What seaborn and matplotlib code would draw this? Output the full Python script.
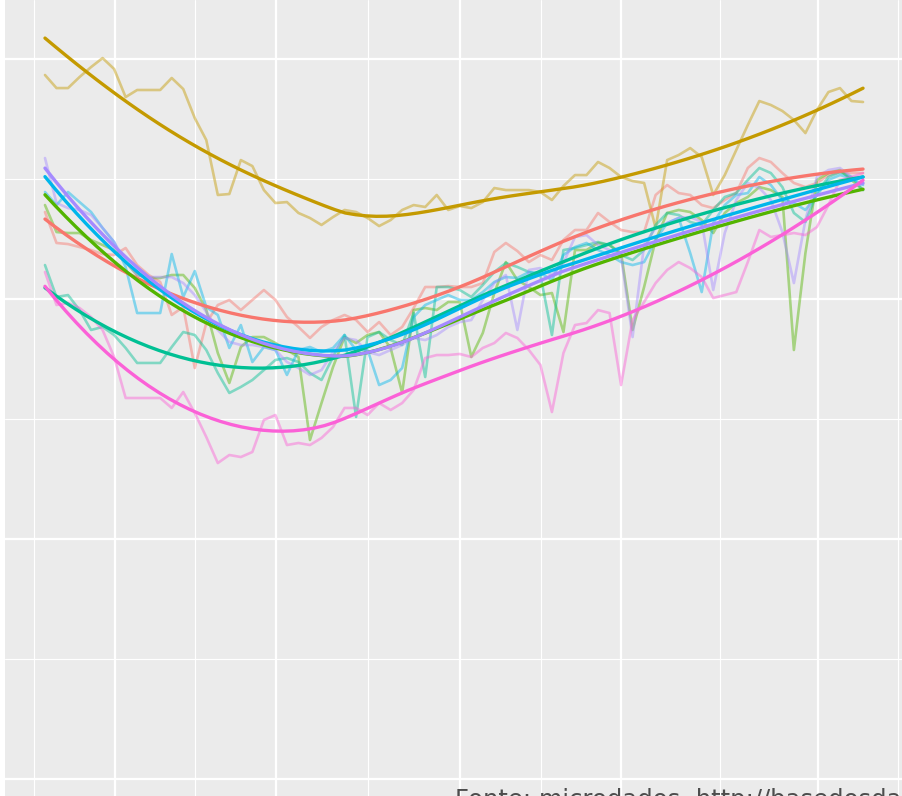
import numpy as np
import pandas as pd
import matplotlib
matplotlib.use("Agg")
import matplotlib.pyplot as plt
import seaborn as sns

# --- dati ---
grupos = ["Grupo 1", "Grupo 2", "Grupo 3", "Grupo 4", "Grupo 5", "Grupo 6", "Grupo 7"]
cores = ["#F8766D", "#C49A00", "#53B400", "#00C094", "#00B6EB", "#A58AFF", "#FB61D7"]
periodo = list(range(72))

g1 = [47.25, 44.67, 44.58, 44.33, 44.08, 43.75, 43.67, 44.25, 42.83, 42.0, 41.42, 38.67,
      39.33, 34.25, 38.0, 39.5, 39.92, 39.08, 39.92, 40.75, 39.92, 38.5, 37.67, 36.75,
      37.67, 38.25, 38.67, 38.25, 37.25, 38.08, 37.0, 37.67, 39.25, 41.0, 41.0, 41.08,
      41.0, 41.0, 41.33, 43.92, 44.67, 44.0, 43.08, 43.67, 43.25, 44.92, 45.75, 45.75,
      47.17, 46.42, 45.75, 45.58, 45.58, 48.67, 49.5, 48.83, 48.67, 47.83, 47.58, 48.25,
      48.83, 50.92, 51.75, 51.42, 50.5, 49.67, 49.33, 49.67, 50.33, 50.58, 50.5, 50.5]
g2 = [58.67, 57.58, 57.58, 58.5, 59.33, 60.08, 59.17, 56.83, 57.42, 57.42, 57.42, 58.42,
      57.5, 55.08, 53.25, 48.67, 48.75, 51.58, 51.08, 49.08, 48.0, 48.08, 47.17, 46.75,
      46.17, 46.83, 47.42, 47.25, 46.75, 46.08, 46.58, 47.42, 47.83, 47.67, 48.67, 47.42,
      47.75, 47.58, 48.08, 49.25, 49.08, 49.08, 49.08, 48.92, 48.25, 49.42, 50.33, 50.33,
      51.42, 50.92, 50.17, 49.83, 49.67, 45.92, 51.58, 52.0, 52.58, 51.83, 48.67, 50.33,
      52.42, 54.5, 56.5, 56.17, 55.67, 54.92, 53.83, 55.75, 57.25, 57.58, 56.5, 56.42]
g3 = [47.83, 45.58, 45.5, 45.5, 44.92, 44.5, 44.08, 43.08, 42.0, 41.75, 41.75, 42.0,
      42.0, 40.92, 39.08, 35.5, 33.0, 36.0, 36.83, 36.83, 36.33, 35.75, 35.17, 28.25,
      31.33, 34.33, 36.83, 36.33, 37.0, 37.25, 35.92, 32.17, 39.08, 39.25, 39.08, 39.75,
      39.75, 35.17, 37.17, 40.5, 43.08, 41.58, 41.0, 40.33, 40.5, 37.25, 44.08, 44.08,
      44.67, 44.5, 43.83, 37.42, 41.0, 44.92, 47.17, 47.42, 47.25, 46.58, 45.5, 47.17,
      48.0, 48.5, 49.33, 49.08, 48.5, 35.75, 43.83, 49.92, 50.5, 50.75, 49.92, 49.08]
g4 = [42.83, 40.17, 40.33, 39.08, 37.42, 37.67, 37.0, 35.92, 34.67, 34.67, 34.67, 36.0,
      37.25, 37.0, 35.75, 33.83, 32.17, 32.67, 33.25, 34.08, 34.92, 35.08, 34.75, 33.83,
      33.25, 35.17, 37.0, 30.17, 36.83, 37.25, 36.58, 36.17, 38.83, 33.5, 41.0, 41.0,
      40.75, 40.17, 41.17, 42.25, 43.0, 42.67, 42.25, 42.0, 37.0, 44.08, 44.25, 44.5,
      44.75, 44.5, 43.67, 43.25, 44.08, 46.17, 47.17, 47.0, 46.42, 46.17, 47.42, 48.5,
      48.83, 49.92, 50.92, 50.5, 49.33, 47.17, 46.42, 48.83, 50.17, 50.58, 50.17, 49.08]
g5 = [48.92, 47.83, 48.92, 48.08, 47.25, 45.92, 44.75, 42.67, 38.83, 38.83, 38.83, 43.75,
      40.17, 42.33, 39.33, 38.67, 35.92, 37.83, 34.75, 36.0, 35.75, 33.67, 35.75, 36.0,
      35.58, 35.92, 37.0, 35.75, 35.75, 32.83, 33.25, 34.25, 38.5, 39.5, 39.92, 40.33,
      39.92, 39.92, 40.58, 41.42, 41.83, 41.75, 42.25, 42.17, 41.58, 43.67, 44.33, 44.67,
      44.08, 43.67, 43.08, 42.83, 43.08, 44.92, 46.33, 46.75, 43.83, 40.58, 46.33, 47.83,
      48.67, 48.83, 50.17, 49.5, 48.25, 48.0, 47.42, 48.67, 49.92, 50.33, 50.08, 49.5]
g6 = [51.75, 48.0, 47.58, 47.42, 47.0, 45.92, 44.75, 43.08, 42.0, 41.83, 41.83, 41.83,
      41.33, 40.33, 38.92, 37.42, 36.42, 36.17, 36.17, 36.0, 35.75, 34.75, 34.25, 33.67,
      34.08, 35.58, 36.75, 36.58, 35.58, 35.33, 35.75, 36.17, 36.75, 36.58, 37.0, 37.67,
      38.08, 38.25, 39.92, 41.33, 42.0, 37.42, 42.42, 42.58, 42.0, 43.0, 45.17, 45.33,
      44.5, 44.08, 43.5, 36.83, 44.5, 45.92, 46.33, 46.75, 46.83, 46.42, 40.75, 45.5,
      48.25, 49.67, 49.25, 48.25, 45.58, 41.33, 46.58, 50.17, 50.75, 50.92, 50.17, 50.17]
g7 = [42.25, 39.5, 39.67, 39.25, 38.5, 37.42, 35.17, 31.75, 31.75, 31.75, 31.75, 30.92,
      32.25, 30.5, 28.5, 26.33, 27.0, 26.83, 27.25, 29.92, 30.33, 27.83, 28.0, 27.83,
      28.42, 29.33, 30.92, 30.92, 30.33, 31.33, 30.75, 31.33, 32.42, 35.08, 35.33, 35.33,
      35.42, 35.17, 35.92, 36.33, 37.17, 36.75, 35.75, 34.5, 30.58, 35.5, 37.83, 38.0,
      39.08, 38.83, 32.83, 38.25, 39.75, 41.33, 42.42, 43.08, 42.58, 41.83, 40.08, 40.33,
      40.58, 43.08, 45.75, 45.17, 45.33, 45.5, 45.33, 46.0, 47.83, 49.92, 50.17, 50.5]

fonte = "Fonte: microdados  http://basedosdados.org"

series = [g1, g2, g3, g4, g5, g6, g7]
df = pd.concat([pd.DataFrame({"periodo": periodo, "valor": s, "grupo": g})
                for g, s in zip(grupos, series)], ignore_index=True)


# --- loess (come geom_smooth: span 0.75, grado 2) ---
def loess(x, y, span=0.75, n_out=80):
    x = np.asarray(x, float)
    y = np.asarray(y, float)
    q = int(np.floor(span * len(x)))
    xs = np.linspace(x.min(), x.max(), n_out)
    ys = []
    for x0 in xs:
        d = np.abs(x - x0)
        h = np.sort(d)[q - 1]
        w = np.clip(1 - (d / h) ** 3, 0, None) ** 3
        X = np.column_stack([np.ones_like(x), x - x0, (x - x0) ** 2])
        W = np.sqrt(w)
        beta = np.linalg.lstsq(X * W[:, None], y * W, rcond=None)[0]
        ys.append(beta[0])
    return xs, np.array(ys)


smooth = []
for g, s in zip(grupos, series):
    xs, ys = loess(periodo, s)
    smooth.append(pd.DataFrame({"periodo": xs, "valor": ys, "grupo": g}))
df_smooth = pd.concat(smooth, ignore_index=True)

# --- grafico ---
sns.set_style("darkgrid", {"axes.facecolor": "#EBEBEB", "grid.color": "white"})
fig = plt.figure(figsize=(9.03, 7.96), dpi=100)
ax = fig.add_axes([5 / 903, 0, 898 / 903, 1])

pal = dict(zip(grupos, cores))
sns.lineplot(data=df, x="periodo", y="valor", hue="grupo", palette=pal,
             alpha=0.45, linewidth=1.9, legend=False, ax=ax)
sns.lineplot(data=df_smooth, x="periodo", y="valor", hue="grupo", palette=pal,
             linewidth=2.4, legend=False, ax=ax)

ax.set_xlim(-3.47, 74.47)
ax.set_ylim(-1.42, 64.92)
ax.set_xticks([6.08, 20.05, 36.02, 50.0, 67.09])
ax.set_xticks([-0.95, 13.02, 28.04, 43.05, 58.59, 74.04], minor=True)
ax.set_yticks([0, 20, 40, 60])
ax.set_yticks([10, 30, 50], minor=True)
ax.grid(which="major", color="white", linewidth=1.6)
ax.grid(which="minor", color="white", linewidth=0.8)
ax.tick_params(axis="y", which="major", length=3.6, width=1.1, color="#333333",
               direction="out", labelleft=False)
ax.tick_params(axis="y", which="minor", length=0, labelleft=False)
ax.tick_params(axis="x", which="both", length=0, labelbottom=False)
ax.set_xlabel("")
ax.set_ylabel("")
for sp in ax.spines.values():
    sp.set_visible(False)

# didascalia in basso, tagliata dal bordo come nell'originale
fig.text(455 / 903, 1 - 788 / 796, fonte, color="#4D4D4D", fontsize=17.5,
         ha="left", va="top", family="DejaVu Sans")

fig.savefig("out.png", dpi=100)
plt.close()
